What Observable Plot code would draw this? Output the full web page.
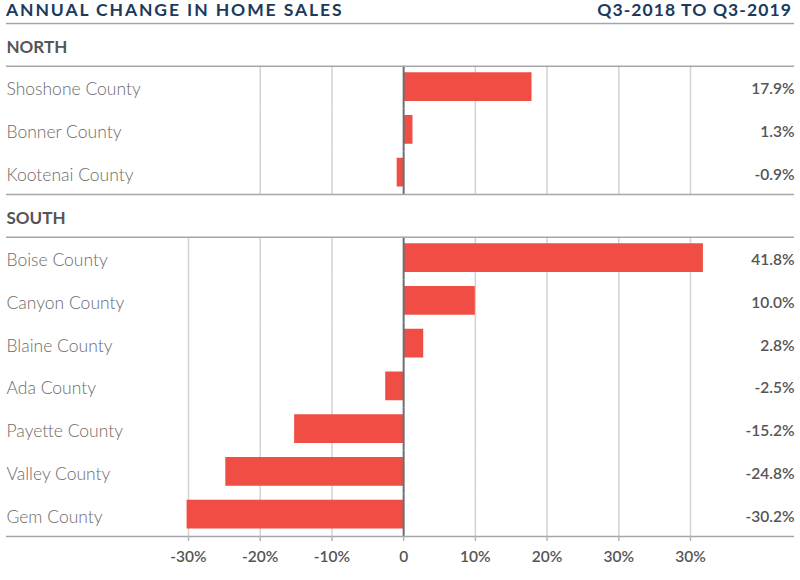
<!DOCTYPE html>
<html><head><meta charset="utf-8">
<script src="https://cdn.jsdelivr.net/npm/d3@7"></script>
<script src="https://cdn.jsdelivr.net/npm/@observablehq/plot@0.6"></script>
<style>
html,body{margin:0;padding:0;background:#fff;overflow:hidden;font-family:Lato,"Open Sans",sans-serif;}
#title{height:22px;display:flex;justify-content:space-between;align-items:flex-start;padding:0 8px 0 6px;color:#1b3a5c;font-weight:700;font-size:17.5px;line-height:20px;box-sizing:border-box}
#title .l{letter-spacing:1.9px}
#title .r{letter-spacing:1.1px}
#chart svg{display:block}
</style></head><body>
<div id="title"><span class="l">ANNUAL CHANGE IN HOME SALES</span><span class="r">Q3-2018 TO Q3-2019</span></div>
<div id="chart"></div>
<script>
const sections = ["NORTH", "SOUTH"];
const northCounties = ["Shoshone County", "Bonner County", "Kootenai County"];
const northValues = [17.9, 1.3, -0.9];
const southCounties = ["Boise County", "Canyon County", "Blaine County", "Ada County", "Payette County", "Valley County", "Gem County"];
const southValues = [41.8, 10.0, 2.8, -2.5, -15.2, -24.8, -30.2];
const tickValues = [-30, -20, -10, 0, 10, 20, 30, 40];
const tickLabels = ["-30%", "-20%", "-10%", "0", "10%", "20%", "30%", "30%"];
const northGrid = [-20, -10, 10, 20, 30, 40];
const southGrid = [-30, -20, -10, 10, 20, 30, 40];

const rows = [
  ...northCounties.map((c, i) => ({section: sections[0], county: c, value: northValues[i]})),
  ...southCounties.map((c, i) => ({section: sections[1], county: c, value: southValues[i]}))
];
const yDomain = [sections[0], ...northCounties, sections[1], ...southCounties];
const gridRows = [
  ...northCounties.flatMap(c => northGrid.map(v => ({county: c, v}))),
  ...southCounties.flatMap(c => southGrid.map(v => ({county: c, v})))
];

const W = 800, H = 558, mT = 1, mB = 44, mL = 188, mR = 110;
const bw = (H - mT - mB) / yDomain.length;
const lineColor = "#a4a7aa";
const extL = -(mL - 6), extR = -(mR - 6);

const chart = Plot.plot({
  width: W, height: H,
  marginTop: mT, marginBottom: mB, marginLeft: mL, marginRight: mR,
  style: {fontFamily: "Lato, 'Open Sans', sans-serif", background: "#fff", overflow: "visible"},
  x: {domain: [-30, 40], axis: null},
  y: {domain: yDomain, padding: 0, round: false, axis: null},
  marks: [
    Plot.tickX(gridRows, {x: "v", y: "county", stroke: "#d2d2d2", strokeWidth: 1.5}),
    Plot.barX(rows, {x: "value", y: "county", fill: "#f04e45", insetTop: 6.5, insetBottom: 7.5}),
    Plot.tickX(rows, {x: () => 0, y: "county", stroke: "#6b6e72", strokeWidth: 2}),
    Plot.ruleY(sections, {y: d => d, dy: -bw / 2, stroke: lineColor, strokeWidth: 1.6, insetLeft: extL, insetRight: extR}),
    Plot.ruleY(sections, {y: d => d, dy: bw / 2, stroke: lineColor, strokeWidth: 1.6, insetLeft: extL, insetRight: extR}),
    Plot.ruleY([southCounties[southCounties.length - 1]], {y: d => d, dy: bw / 2, stroke: lineColor, strokeWidth: 1.6, insetLeft: extL, insetRight: extR}),
    Plot.text(sections, {y: d => d, text: d => d, frameAnchor: "left", dx: -(mL - 6), dy: 2.5, textAnchor: "start", fontSize: 17, fontWeight: 700, fill: "#555", letterSpacing: 0.5}),
    Plot.text(rows, {y: "county", text: "county", frameAnchor: "left", dx: -(mL - 6), dy: 2, textAnchor: "start", fontSize: 17.5, fontWeight: 300, fill: "#6a6a6a", letterSpacing: 0.3}),
    Plot.text(rows, {y: "county", text: d => d.value.toFixed(1) + "%", frameAnchor: "right", dx: mR - 6, dy: 1.5, textAnchor: "end", fontSize: 15.5, fontWeight: 600, fill: "#555"}),
    Plot.axisX(tickValues, {tickFormat: d => tickLabels[tickValues.indexOf(d)], tickSize: 5, stroke: "#b5b5b5", strokeWidth: 1.5, tickPadding: 9, fontSize: 15.5, fontWeight: 600, fill: "#555"})
  ]
});
document.getElementById("chart").appendChild(chart);
</script>
</body></html>
